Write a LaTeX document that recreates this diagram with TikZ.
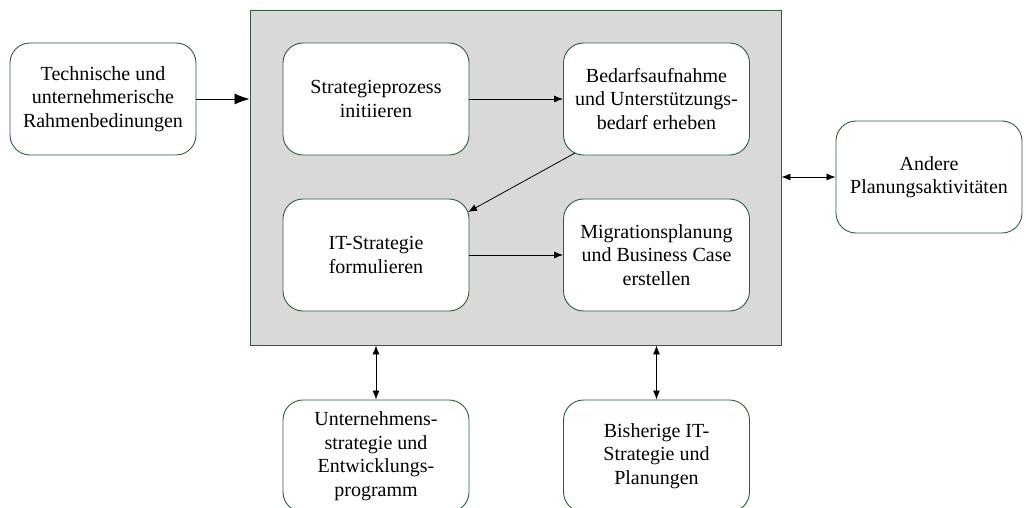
\documentclass[tikz,border=0pt]{standalone}
\usepackage{fontspec}
\setmainfont{Liberation Serif}
\usetikzlibrary{arrows.meta,positioning}
\definecolor{boxgreen}{HTML}{2F5E3E}
\definecolor{panelgray}{HTML}{D9D9D9}
\tikzset{
  procbox/.style={draw=boxgreen, fill=white, line width=0.9pt, rounded corners=20pt,
    minimum width=186pt, minimum height=112pt, align=center, inner sep=2pt,
    font=\fontsize{20}{23.5}\selectfont},
  conn/.style={draw=black, line width=0.8pt, -{Latex[length=9pt,width=7pt]}},
  biconn/.style={draw=black, line width=0.8pt, {Latex[length=9pt,width=7pt]}-{Latex[length=9pt,width=7pt]}},
  bigconn/.style={draw=black, line width=0.8pt, -{Latex[length=15pt,width=11pt]}}
}
\begin{document}
\begin{tikzpicture}[x=1pt,y=-1pt]
\useasboundingbox (0,0) rectangle (1026,508);
\node[draw=boxgreen, fill=panelgray, line width=0.9pt, minimum width=531pt, minimum height=335pt, inner sep=0pt] (panel) at (515.5,177.5) {};
\node[procbox] (tech) at (103,99) {Technische und\\unternehmerische\\Rahmenbedinungen};
\node[procbox] (init) at (376,99) {Strategieprozess\\initiieren};
\node[procbox] (bedarf) at (656.5,99) {Bedarfsaufnahme\\und Unterstützungs-\\bedarf erheben};
\node[procbox] (form) at (376,255) {IT-Strategie\\formulieren};
\node[procbox] (migr) at (656.5,255) {Migrationsplanung\\und Business Case\\erstellen};
\node[procbox] (andere) at (929,177) {Andere\\Planungsaktivitäten};
\node[procbox] (unter) at (376,456) {Unternehmens-\\strategie und\\Entwicklungs-\\programm};
\node[procbox] (bish) at (656.5,456) {Bisherige IT-\\Strategie und\\Planungen};
\draw[bigconn] (tech.east) -- (tech.east -| panel.west);
\draw[conn] (init) -- (bedarf);
\draw[conn] (form) -- (migr);
\draw[conn] (575,153) -- (468,212);
\draw[biconn] (panel.east |- andere.west) -- (andere.west);
\draw[biconn] (panel.south -| unter.north) -- (unter.north);
\draw[biconn] (panel.south -| bish.north) -- (bish.north);
\end{tikzpicture}
\end{document}
